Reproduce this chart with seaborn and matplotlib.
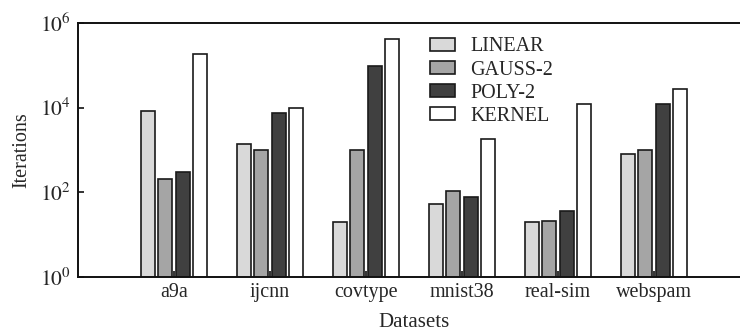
import matplotlib
matplotlib.use("Agg")
import matplotlib.pyplot as plt
import seaborn as sns
import pandas as pd
from matplotlib.ticker import NullLocator, FixedLocator

datasets = ["a9a", "ijcnn", "covtype", "mnist38", "real-sim", "webspam"]
methods = ["LINEAR", "GAUSS-2", "POLY-2", "KERNEL"]
linear = [8300, 1370, 20, 54, 20, 820]
gauss2 = [207, 1020, 1020, 107, 21.5, 1020]
poly2 = [307, 7350, 98000, 76, 37, 12400]
kernel = [182000, 10000, 412000, 1820, 12400, 28000]
colors = ["#d9d9d9", "#a5a5a5", "#404040", "#ffffff"]

rows = []
for m, vals in zip(methods, [linear, gauss2, poly2, kernel]):
    for d, v in zip(datasets, vals):
        rows.append({"Dataset": d, "Method": m, "Iterations": v})
df = pd.DataFrame(rows)

sns.set_style("white")
plt.rcParams["font.family"] = ["Liberation Serif", "DejaVu Serif"]
plt.rcParams["mathtext.fontset"] = "stix"

fig = plt.figure(figsize=(7.4, 3.31), dpi=100)
ax = fig.add_axes([78 / 740, 1 - 277 / 331, 672 / 740, 254 / 331])
ax.set_yscale("log")
sns.barplot(data=df, x="Dataset", y="Iterations", hue="Method", order=datasets,
            hue_order=methods, palette=colors, width=0.72, gap=0.19,
            edgecolor="#1a1a1a", linewidth=1.2, ax=ax, legend=True, errorbar=None)

ax.set_xlim(-1, 6)
ax.set_ylim(1, 1e6)
ax.yaxis.set_major_locator(FixedLocator([1, 1e2, 1e4, 1e6]))
ax.yaxis.set_minor_locator(NullLocator())
ax.set_yticklabels([r"$10^{0}$", r"$10^{2}$", r"$10^{4}$", r"$10^{6}$"])
ax.tick_params(axis="both", direction="in", length=4, width=1.2, color="#111",
               left=True, bottom=True)
ax.tick_params(axis="y", labelsize=15.5, pad=5)
ax.tick_params(axis="x", labelsize=14.5, pad=4)
for s in ["left", "top", "bottom"]:
    ax.spines[s].set_visible(True)
    ax.spines[s].set_linewidth(1.4)
    ax.spines[s].set_color("#111")
ax.spines["right"].set_visible(False)

ax.set_xlabel("Datasets", fontsize=15, labelpad=8)
ax.set_ylabel("Iterations", fontsize=14.5, labelpad=6)

leg = ax.legend(loc="upper left", bbox_to_anchor=(0.524, 0.943),
                frameon=False, fontsize=14.5, handlelength=1.25, handleheight=0.6,
                handletextpad=0.75, labelspacing=0.2, borderaxespad=0, borderpad=0)
for h in leg.legend_handles:
    h.set_edgecolor("#1a1a1a")
    h.set_linewidth(1.2)

fig.savefig("out.png", dpi=100)
